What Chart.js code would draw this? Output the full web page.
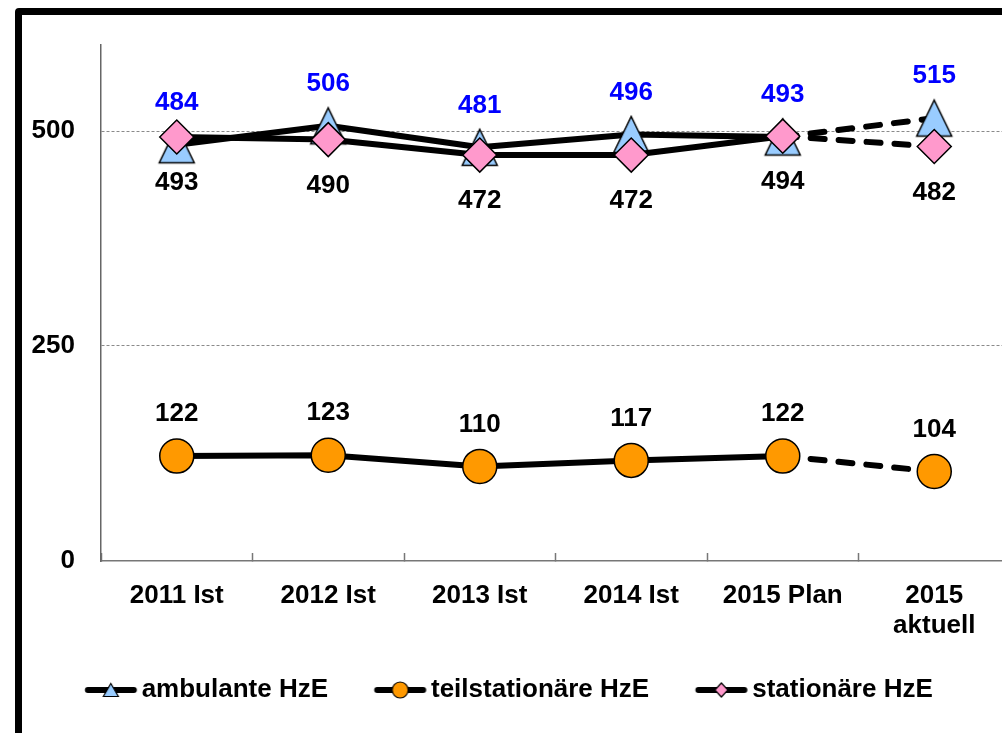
<!DOCTYPE html>
<html><head><meta charset="utf-8">
<script src="https://cdn.jsdelivr.net/npm/chart.js@4.4.1/dist/chart.umd.min.js"></script>
<style>
html,body{margin:0;padding:0;background:#fff;overflow:hidden;width:1002px;height:733px;}
#frame{position:absolute;left:15px;top:8px;width:1100px;height:900px;border:7px solid #000;border-radius:4px;box-sizing:border-box;}
#c{position:absolute;left:-20px;top:0;}
</style></head><body>
<div id="frame"></div>
<canvas id="c" width="1030" height="733"></canvas>
<script>
const categories = ['2011 Ist', '2012 Ist', '2013 Ist', '2014 Ist', '2015 Plan', ['2015', 'aktuell']];
const ambulante = [484, 506, 481, 496, 493, 515];
const teilstationaer = [122, 123, 110, 117, 122, 104];
const stationaer = [493, 490, 472, 472, 494, 482];
const seriesNames = ['ambulante HzE', 'teilstationäre HzE', 'stationäre HzE'];
const yTicks = [0, 250, 500];

const FONT = "'Liberation Sans', Arial, sans-serif";

function shapeCanvas(shape, w, h, fill, lw, sample) {
  const c = document.createElement('canvas');
  const W = sample ? sample.w : Math.ceil(w + 2 * lw + 2);
  const H = sample ? sample.h : Math.ceil(h + 2 * lw + 2);
  c.width = W; c.height = H;
  const g = c.getContext('2d');
  const cx = sample ? sample.cx : W / 2, cy = H / 2;
  if (sample) {
    g.beginPath();
    g.moveTo(cx - sample.half, cy); g.lineTo(cx + sample.half, cy);
    g.lineWidth = 6; g.lineCap = 'round'; g.strokeStyle = '#000'; g.stroke();
  }
  g.beginPath();
  if (shape === 'triangle') {
    g.moveTo(cx, cy - h / 2); g.lineTo(cx + w / 2, cy + h / 2); g.lineTo(cx - w / 2, cy + h / 2); g.closePath();
  } else if (shape === 'circle') {
    g.arc(cx, cy, w / 2, 0, Math.PI * 2);
  } else {
    g.moveTo(cx, cy - h / 2); g.lineTo(cx + w / 2, cy); g.lineTo(cx, cy + h / 2); g.lineTo(cx - w / 2, cy); g.closePath();
  }
  g.fillStyle = fill; g.fill();
  g.lineWidth = lw; g.strokeStyle = '#000'; g.lineJoin = 'miter'; g.stroke();
  return c;
}

const triangleMarker = shapeCanvas('triangle', 35, 36, '#99CCFF', 1.5);
const sampleGeom = { w: 80, h: 22, cx: 52.7, half: 23 };
const legendSamples = [
  shapeCanvas('triangle', 15, 13, '#99CCFF', 1.2, sampleGeom),
  shapeCanvas('circle', 16, 16, '#FF9900', 1.2, sampleGeom),
  shapeCanvas('diamond', 13, 14, '#FF99CC', 1.2, sampleGeom)
];

const dashLast = ctx => ctx.p1DataIndex === categories.length - 1 ? [14, 14] : undefined;

const dataLabels = {
  id: 'dataLabels',
  afterDatasetsDraw(chart) {
    const ctx = chart.ctx;
    ctx.save();
    ctx.font = 'bold 26px ' + FONT;
    ctx.textAlign = 'center';
    ctx.textBaseline = 'middle';
    chart.data.datasets.forEach((ds, i) => {
      const meta = chart.getDatasetMeta(i);
      meta.data.forEach((pt, j) => {
        ctx.fillStyle = ds.labelColor;
        ctx.fillText(String(ds.data[j]), pt.x, pt.y + ds.labelOffset);
      });
    });
    ctx.restore();
  }
};

Chart.defaults.font.family = FONT;
Chart.defaults.font.weight = 'bold';
Chart.defaults.font.size = 26;
Chart.defaults.color = '#000';

new Chart(document.getElementById('c'), {
  type: 'line',
  data: {
    labels: categories,
    datasets: [
      {
        label: seriesNames[0], data: ambulante, order: 2,
        borderColor: '#000', borderWidth: 6, borderCapStyle: 'round', borderJoinStyle: 'round',
        pointStyle: triangleMarker, pointRadius: 18,
        segment: { borderDash: dashLast },
        labelColor: '#0000FF', labelOffset: -42
      },
      {
        label: seriesNames[1], data: teilstationaer, order: 1,
        borderColor: '#000', borderWidth: 6, borderCapStyle: 'round', borderJoinStyle: 'round',
        pointStyle: 'circle', pointRadius: 17, pointBackgroundColor: '#FF9900', pointBorderColor: '#000', pointBorderWidth: 1.5,
        segment: { borderDash: dashLast },
        labelColor: '#000000', labelOffset: -42
      },
      {
        label: seriesNames[2], data: stationaer, order: 0,
        borderColor: '#000', borderWidth: 6, borderCapStyle: 'round', borderJoinStyle: 'round',
        pointStyle: 'rectRot', pointRadius: 17, pointBackgroundColor: '#FF99CC', pointBorderColor: '#000', pointBorderWidth: 1.5,
        segment: { borderDash: dashLast },
        labelColor: '#000000', labelOffset: 46
      }
    ]
  },
  options: {
    responsive: false,
    animation: false,
    devicePixelRatio: 1,
    layout: { autoPadding: false, padding: { left: 10.4, top: 45, right: 0, bottom: 20 } },
    scales: {
      x: {
        type: 'category',
        offset: true,
        grid: { display: true, drawOnChartArea: false, drawTicks: true, tickLength: -8, offset: true, color: '#777', tickColor: '#777', tickWidth: 1.5 },
        border: { display: true, color: '#777', width: 1.5 },
        ticks: { padding: 28, color: '#000', font: { size: 26, weight: 'bold', lineHeight: 1.15 }, maxRotation: 0, autoSkip: false },
        afterFit: s => { s.height = 87; s.paddingLeft = 0; s.paddingRight = 0; }
      },
      y: {
        min: 0, max: 600,
        afterBuildTicks: s => { s.ticks = yTicks.map(v => ({ value: v })); },
        grid: { drawTicks: false, lineWidth: 1, color: c => (c.tick && c.tick.value === 0) ? 'rgba(0,0,0,0)' : '#8a8a8a' },
        border: { display: true, color: '#666', width: 1.5, dash: [3, 2] },
        ticks: { padding: 26, color: '#000', font: { size: 26, weight: 'bold' } },
        afterFit: s => { s.width = 110.6; s.paddingTop = 0; s.paddingBottom = 0; }
      }
    },
    plugins: {
      tooltip: { enabled: false },
      legend: {
        position: 'bottom',
        labels: {
          usePointStyle: true,
          pointStyleWidth: 61,
          padding: 29,
          color: '#000',
          font: { size: 26, weight: 'bold' },
          sort: (a, b) => a.datasetIndex - b.datasetIndex,
          generateLabels: chart => Chart.defaults.plugins.legend.labels.generateLabels(chart)
            .map(l => Object.assign({}, l, { pointStyle: legendSamples[l.datasetIndex] }))
        }
      }
    }
  },
  plugins: [dataLabels]
});
</script>
</body></html>
